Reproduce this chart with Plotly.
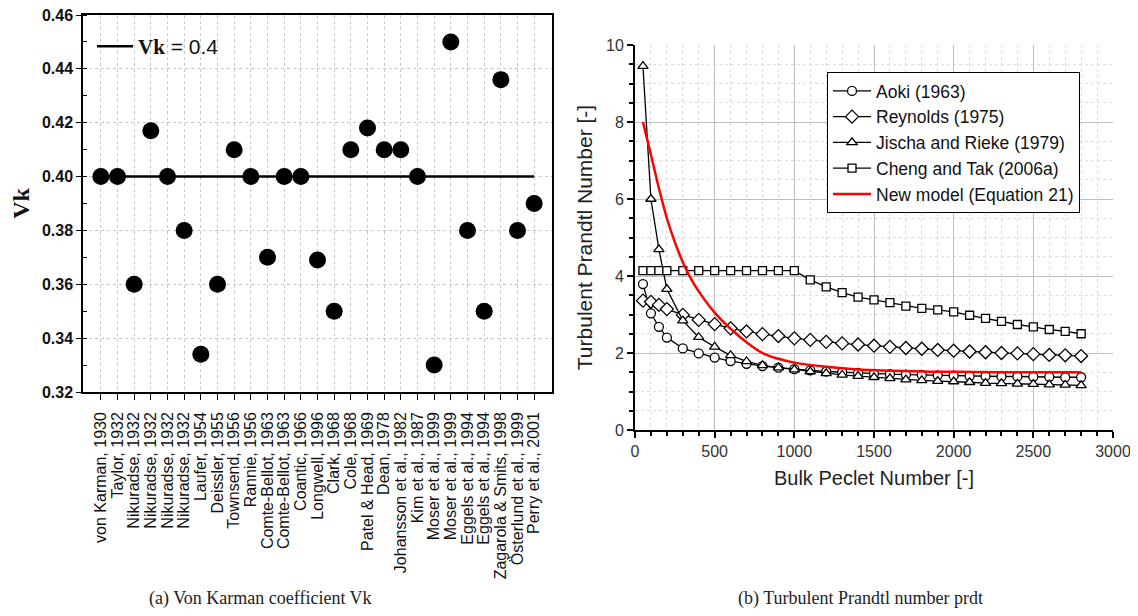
import plotly.graph_objects as go

# ---------------- Panel (a) data ----------------
studies = ["von Karman, 1930", "Taylor, 1932", "Nikuradse, 1932", "Nikuradse, 1932",
           "Nikuradse, 1932", "Nikuradse, 1932", "Laufer, 1954", "Deissler, 1955",
           "Townsend, 1956", "Rannie, 1956", "Comte-Bellot, 1963", "Comte-Bellot, 1963",
           "Coantic, 1966", "Longwell, 1996", "Clark, 1968", "Cole, 1968",
           "Patel & Head, 1969", "Dean, 1978", "Johansson et al., 1982", "Kim et al., 1987",
           "Moser et al., 1999", "Moser et al., 1999", "Eggels et al., 1994",
           "Eggels et al., 1994", "Zagarola & Smits, 1998", "Österlund et al., 1999",
           "Perry et al., 2001"]
vk_values = [0.400, 0.400, 0.360, 0.417, 0.400, 0.380, 0.334, 0.360, 0.410, 0.400,
             0.370, 0.400, 0.400, 0.369, 0.350, 0.410, 0.418, 0.410, 0.410, 0.400,
             0.330, 0.450, 0.380, 0.350, 0.436, 0.380, 0.390]
vk_ref = 0.4
study_idx = list(range(1, len(studies) + 1))
vk_ticks = [0.32, 0.34, 0.36, 0.38, 0.40, 0.42, 0.44, 0.46]

# ---------------- Panel (b) data ----------------
pe = [50, 100, 150, 200, 300, 400, 500, 600, 700, 800, 900, 1000, 1100, 1200, 1300,
      1400, 1500, 1600, 1700, 1800, 1900, 2000, 2100, 2200, 2300, 2400, 2500, 2600,
      2700, 2800]
prt_aoki = [3.79, 3.03, 2.68, 2.40, 2.12, 1.99, 1.88, 1.79, 1.72, 1.66, 1.62, 1.58,
            1.55, 1.52, 1.50, 1.48, 1.46, 1.45, 1.44, 1.43, 1.42, 1.41, 1.40, 1.40,
            1.39, 1.39, 1.38, 1.38, 1.37, 1.37]
prt_reynolds = [3.36, 3.33, 3.25, 3.14, 2.99, 2.86, 2.75, 2.64, 2.56, 2.49, 2.44, 2.38,
                2.34, 2.29, 2.25, 2.22, 2.19, 2.16, 2.13, 2.11, 2.08, 2.06, 2.04, 2.02,
                2.00, 1.99, 1.97, 1.95, 1.94, 1.92]
prt_jischa = [9.45, 6.00, 4.69, 3.66, 2.84, 2.41, 2.16, 1.94, 1.78, 1.68, 1.62, 1.57,
              1.52, 1.47, 1.43, 1.40, 1.37, 1.34, 1.31, 1.29, 1.27, 1.26, 1.24, 1.22,
              1.21, 1.20, 1.19, 1.18, 1.17, 1.16]
prt_cheng = [4.14, 4.14, 4.14, 4.14, 4.14, 4.14, 4.14, 4.14, 4.14, 4.14, 4.14, 4.14,
             3.90, 3.72, 3.57, 3.45, 3.38, 3.31, 3.22, 3.16, 3.12, 3.07, 2.98, 2.90,
             2.82, 2.74, 2.68, 2.61, 2.56, 2.50]
pe_new = [50, 100, 150, 200, 250, 300, 350, 400, 500, 600, 700, 800, 900, 1000, 1200,
          1400, 1600, 1800, 2000, 2400, 2800]
prt_new = [8.0, 7.15, 6.28, 5.5, 4.88, 4.36, 3.94, 3.6, 3.05, 2.63, 2.28, 2.0, 1.85,
           1.75, 1.64, 1.57, 1.54, 1.52, 1.51, 1.5, 1.5]

# page has an 8px body margin: build a figure that fits inside it
OFF = 8
W, H = 1138 - 2 * OFF, 616 - 2 * OFF


def px(p):
    return (p - OFF) / W


def py(p):
    return 1 - (p - OFF) / H


SANS = "Liberation Sans, Arial, sans-serif"
SERIF = "Liberation Serif, Times New Roman, serif"

fig = go.Figure()

# ---- panel (a) traces ----
fig.add_trace(go.Scatter(
    x=[study_idx[0], study_idx[-1]], y=[vk_ref, vk_ref], mode="lines",
    line=dict(color="black", width=2.5),
    name=('<span style="font-family:Liberation Serif"><b>Vk</b></span>'
          '<span style="font-family:Liberation Sans"> = 0.4</span>'),
    xaxis="x", yaxis="y", legend="legend2", showlegend=True))
fig.add_trace(go.Scatter(
    x=study_idx, y=vk_values, mode="markers",
    marker=dict(color="black", size=17, symbol="circle"),
    xaxis="x", yaxis="y", showlegend=False))

# ---- panel (b) traces ----
line_k = dict(color="black", width=1.3)
fig.add_trace(go.Scatter(x=pe, y=prt_aoki, mode="lines+markers", name="Aoki (1963)",
                         line=line_k,
                         marker=dict(symbol="circle", size=9, color="white",
                                     line=dict(color="black", width=1.3)),
                         xaxis="x2", yaxis="y2"))
fig.add_trace(go.Scatter(x=pe, y=prt_reynolds, mode="lines+markers", name="Reynolds (1975)",
                         line=line_k,
                         marker=dict(symbol="diamond", size=10, color="white",
                                     line=dict(color="black", width=1.3)),
                         xaxis="x2", yaxis="y2"))
fig.add_trace(go.Scatter(x=pe, y=prt_jischa, mode="lines+markers",
                         name="Jischa and Rieke (1979)",
                         line=line_k,
                         marker=dict(symbol="triangle-up", size=9, color="white",
                                     line=dict(color="black", width=1.3)),
                         xaxis="x2", yaxis="y2"))
fig.add_trace(go.Scatter(x=pe, y=prt_cheng, mode="lines+markers",
                         name="Cheng and Tak (2006a)",
                         line=line_k,
                         marker=dict(symbol="square", size=8, color="white",
                                     line=dict(color="black", width=1.3)),
                         xaxis="x2", yaxis="y2"))
fig.add_trace(go.Scatter(x=pe_new, y=prt_new, mode="lines",
                         name="New model (Equation 21)",
                         line=dict(color="#ff0000", width=2.5, shape="spline"),
                         xaxis="x2", yaxis="y2"))

fig.update_layout(
    template="none",
    width=W, height=H,
    margin=dict(l=0, r=0, t=0, b=0, pad=0),
    paper_bgcolor="white", plot_bgcolor="white",
    font=dict(family=SANS, color="#222"),
    xaxis=dict(
        domain=[px(83), px(552)], range=[-0.07, 28.07], automargin=False,
        tickmode="array", tickvals=study_idx, ticktext=studies,
        tickangle=-90, tickfont=dict(family=SANS, size=16, color="#111"),
        ticks="outside", ticklen=6, tickcolor="black", tickwidth=1.2,
        ticklabelstandoff=6, ticklabeloverflow="allow",
        showgrid=True, gridcolor="#c8c8c8", griddash="dot", gridwidth=1,
        showline=True, linecolor="black", linewidth=1.5, mirror=True,
        zeroline=False,
    ),
    yaxis=dict(
        domain=[py(392), py(15)], range=[0.32, 0.46], automargin=False,
        tickmode="array", tickvals=vk_ticks,
        ticktext=["%.2f" % v for v in vk_ticks],
        tickfont=dict(family=SANS, size=16, color="#111", weight="bold"),
        ticks="outside", ticklen=5, tickcolor="black", tickwidth=1.2,
        ticklabeloverflow="allow",
        minor=dict(dtick=0.01, tick0=0.32, ticks="inside", ticklen=4,
                   tickcolor="black", showgrid=False),
        showgrid=True, gridcolor="#c8c8c8", griddash="dot", gridwidth=1,
        showline=True, linecolor="black", linewidth=1.5, mirror=True,
        zeroline=False,
        title=dict(text="<b>Vk</b>", font=dict(family=SERIF, size=24, color="#111"),
                   standoff=8),
    ),
    xaxis2=dict(
        domain=[px(635), px(1113)], range=[0, 3000], anchor="y2", automargin=False,
        dtick=500, tick0=0,
        tickfont=dict(family=SANS, size=16, color="#333"),
        ticks="outside", ticklen=6, tickcolor="black", tickwidth=1.5,
        ticklabeloverflow="allow",
        minor=dict(dtick=100, ticks="outside", ticklen=4, tickcolor="black",
                   showgrid=True, gridcolor="#dcdcdc", griddash="dot", gridwidth=1),
        showgrid=True, gridcolor="#bdbdbd", gridwidth=1,
        showline=True, linecolor="black", linewidth=2, mirror=False,
        zeroline=False,
        title=dict(text="Bulk Peclet Number [-]", font=dict(family=SANS, size=20, color="#222"),
                   standoff=12),
    ),
    yaxis2=dict(
        domain=[py(430), py(45)], range=[0, 10], anchor="x2", automargin=False,
        dtick=2, tick0=0,
        tickfont=dict(family=SANS, size=16, color="#333"),
        ticks="outside", ticklen=6, tickcolor="black", tickwidth=1.5,
        ticklabeloverflow="allow",
        minor=dict(dtick=0.5, ticks="outside", ticklen=4, tickcolor="black",
                   showgrid=True, gridcolor="#dcdcdc", griddash="dot", gridwidth=1),
        showgrid=True, gridcolor="#bdbdbd", gridwidth=1,
        showline=True, linecolor="black", linewidth=2, mirror=False,
        zeroline=False,
        title=dict(text="Turbulent Prandtl Number [-]",
                   font=dict(family=SANS, size=21, color="#222"), standoff=8),
    ),
    legend=dict(
        x=px(827), y=py(72), xanchor="left", yanchor="top",
        bgcolor="white", bordercolor="black", borderwidth=1,
        font=dict(family=SANS, size=17.5, color="#111"),
        tracegroupgap=0, itemwidth=38,
    ),
    legend2=dict(
        x=px(92), y=py(26), xanchor="left", yanchor="top",
        bgcolor="rgba(255,255,255,0)", borderwidth=0,
        font=dict(family=SANS, size=21, color="#111"),
        itemwidth=36,
    ),
    annotations=[
        dict(text="(a) Von Karman coefficient Vk", x=px(260), y=py(598),
             xref="paper", yref="paper", xanchor="center", yanchor="middle",
             showarrow=False,
             font=dict(family=SERIF, size=18, color="#222")),
        dict(text="(b) Turbulent Prandtl number prdt", x=px(860), y=py(598),
             xref="paper", yref="paper", xanchor="center", yanchor="middle",
             showarrow=False,
             font=dict(family=SERIF, size=18, color="#222")),
    ],
)

fig.write_html("out.html")
